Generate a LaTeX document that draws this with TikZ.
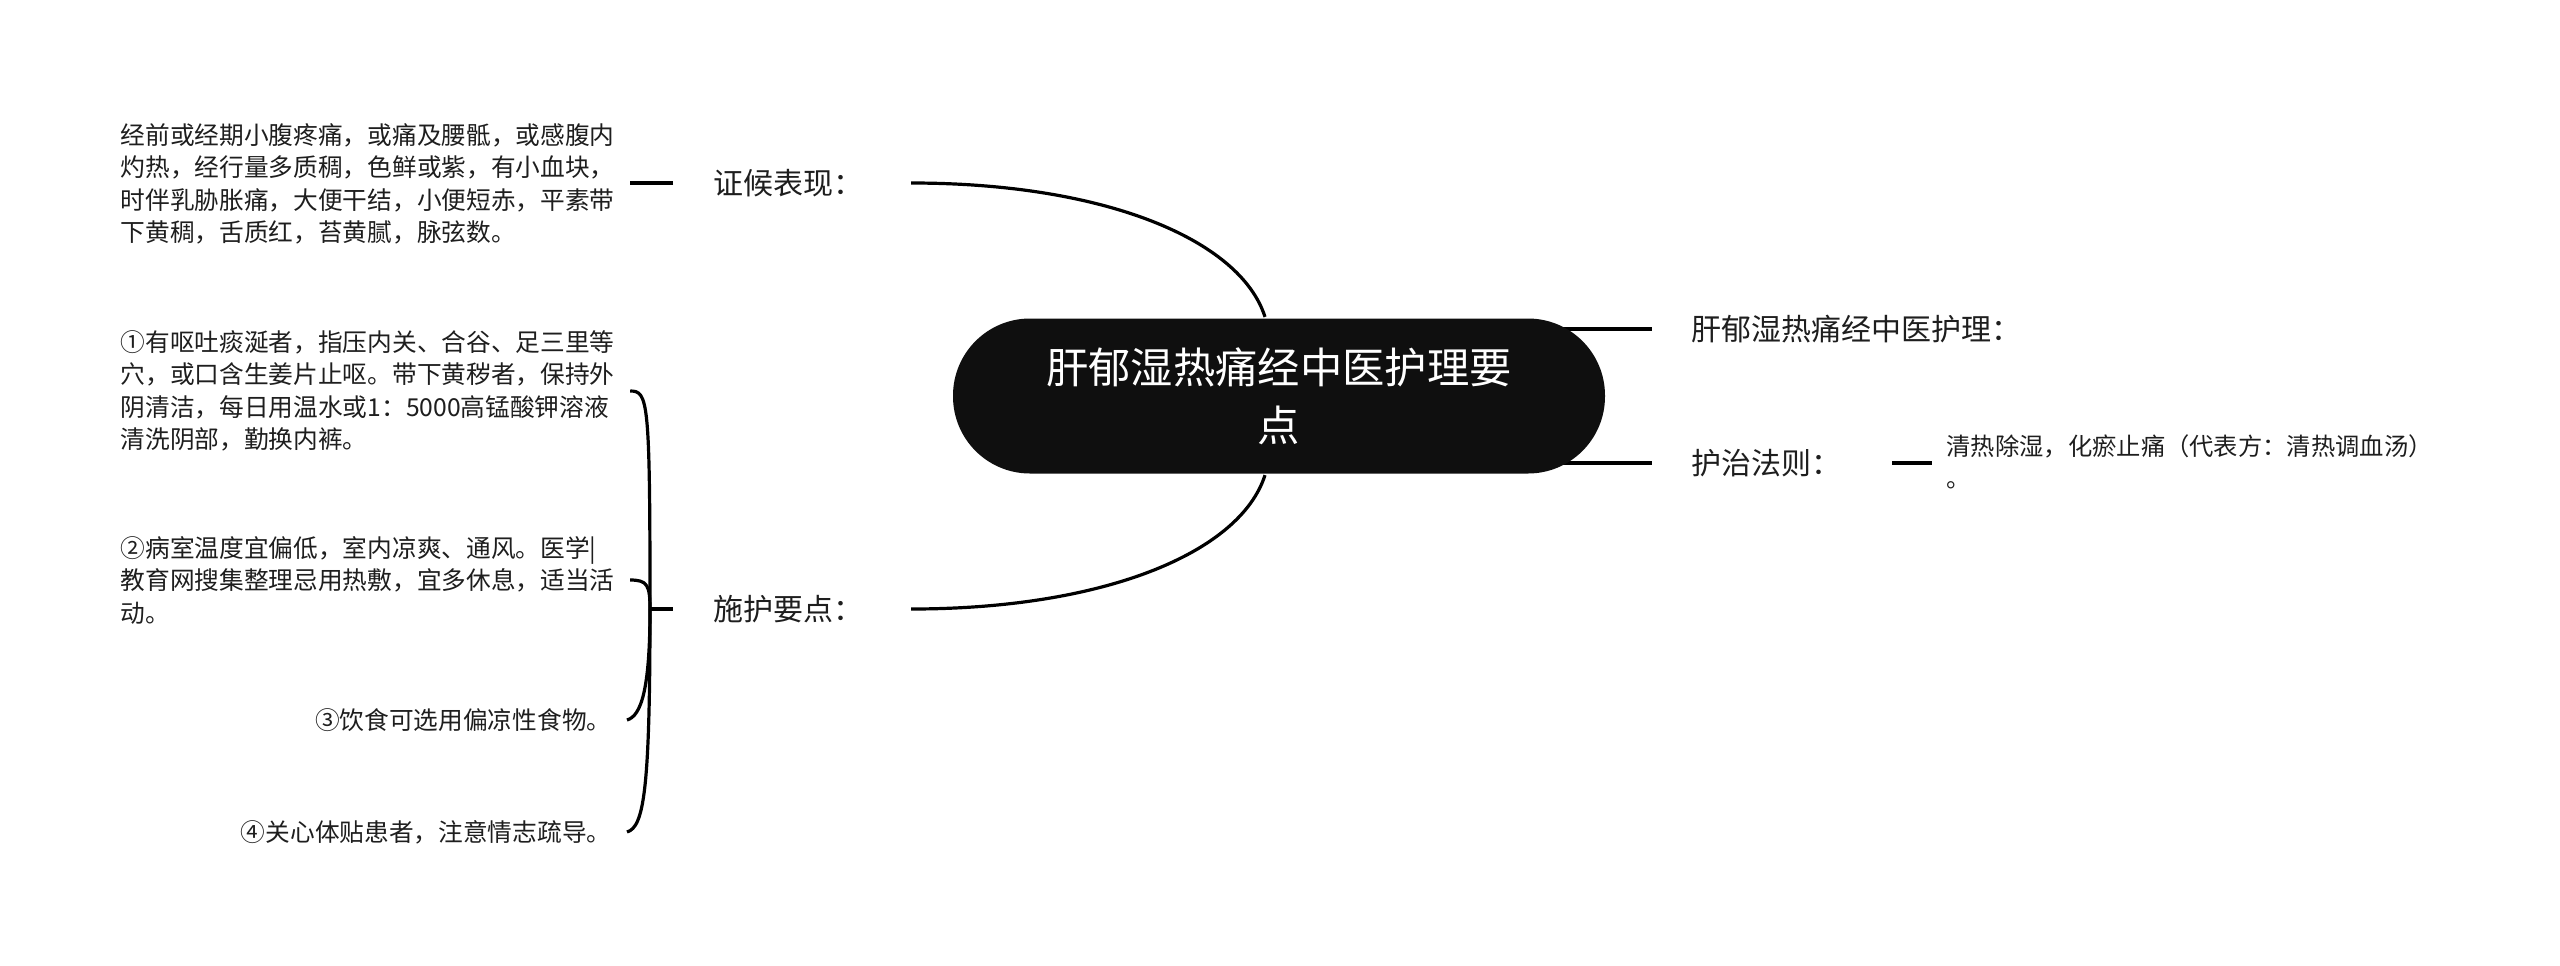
\documentclass[tikz,border=0pt]{standalone}
\usepackage{fontspec}
\setmainfont{Noto Sans CJK SC}
\usepackage{tikz}
\usetikzlibrary{backgrounds}
\definecolor{zhutihei}{HTML}{0F0F0F}
\definecolor{wenzi}{HTML}{1E1E1E}

\begin{document}
\begin{tikzpicture}[x=0.5pt,y=-0.5pt,line width=1.6pt,
		zhuti/.style={fill=zhutihei,text=white,rounded corners=38.5pt,minimum width=326pt,minimum height=77.5pt,inner sep=0pt,align=center,font=\fontsize{21.15pt}{29pt}\selectfont},
		fenzhi/.style={inner sep=0pt,text=wenzi,font=\fontsize{15pt}{18pt}\selectfont},
		neirong/.style={inner sep=0pt,text=wenzi,align=left,font=\fontsize{12.35pt}{16.25pt}\selectfont},
		lianxian/.style={line width=1.6pt,draw=black},
		duanxian/.style={line width=2pt,draw=black}]
		\useasboundingbox (0,0) rectangle (2560,965);
		%定义中心主题与各分支
		\node (root) [zhuti] at (1279,396) {肝郁湿热痛经中医护理要\\点};
		\node (zh) [fenzhi,anchor=west] at (712,183) {证候表现：};
		\node (sh) [fenzhi,anchor=west] at (712,609) {施护要点：};
		\node (hl) [fenzhi,anchor=west] at (1690,329) {肝郁湿热痛经中医护理：};
		\node (hz) [fenzhi,anchor=west] at (1690,463) {护治法则：};
		
		%定义各分支内容
		\node (zb) [neirong,anchor=west] at (119,184) {经前或经期小腹疼痛，或痛及腰骶，或感腹内\\灼热，经行量多质稠，色鲜或紫，有小血块，\\时伴乳胁胀痛，大便干结，小便短赤，平素带\\下黄稠，舌质红，苔黄腻，脉弦数。};
		\node (shd1) [neirong,anchor=west] at (119,391) {①有呕吐痰涎者，指压内关、合谷、足三里等\\穴，或口含生姜片止呕。带下黄秽者，保持外\\阴清洁，每日用温水或1：5000高锰酸钾溶液\\清洗阴部，勤换内裤。};
		\node (shd2) [neirong,anchor=west] at (119,580) {②病室温度宜偏低，室内凉爽、通风。医学|\\教育网搜集整理忌用热敷，宜多休息，适当活\\动。};
		\node (shd3) [neirong,anchor=east] at (613,720) {③饮食可选用偏凉性食物。};
		\node (shd4) [neirong,anchor=east] at (613,832) {④关心体贴患者，注意情志疏导。};
		\node (qr) [neirong,anchor=west,font=\fontsize{12.15pt}{16pt}\selectfont] at (1945,462) {清热除湿，化瘀止痛（代表方：清热调血汤）\\。};
		
		%连接中心主题
		\draw[lianxian] ([xshift=23pt]zh.east) .. controls +(192,0) and +(-25,-78) .. ([xshift=-7pt]root.north);
		\draw[lianxian] ([xshift=23pt]sh.east) .. controls +(192,0) and +(-25,78) .. ([xshift=-7pt]root.south);
		\begin{scope}[on background layer]
			\draw[lianxian] (root.center |- hl.west) -- ([xshift=-19pt]hl.west);
			\draw[lianxian] (root.center |- hz.west) -- ([xshift=-19pt]hz.west);
		\end{scope}
		
		%连接分支内容
		\draw[duanxian] ([xshift=-19.5pt]zh.west) -- ([xshift=7pt]zh.west -| zb.east);
		\draw[duanxian] ([xshift=24.5pt]hz.east) -- ([xshift=-6.5pt]hz.east -| qr.west);
		\coordinate (hub) at ([xshift=-31pt]sh.west);
		\draw[duanxian] (hub) -- ([xshift=-19.5pt]sh.west);
		\draw[lianxian] (hub) .. controls +(0,-209) and +(18,0) .. ([xshift=7pt]shd1.east);
		\draw[lianxian] (hub) .. controls +(0,-24) and +(17,0) .. ([xshift=7pt]shd2.east);
		\draw[lianxian] (hub) .. controls +(0,81) and +(14,-4) .. ([xshift=7pt]shd3.east);
		\draw[lianxian] (hub) .. controls +(0,181) and +(17,-5) .. ([xshift=7pt]shd4.east);
	\end{tikzpicture}
\end{document}
